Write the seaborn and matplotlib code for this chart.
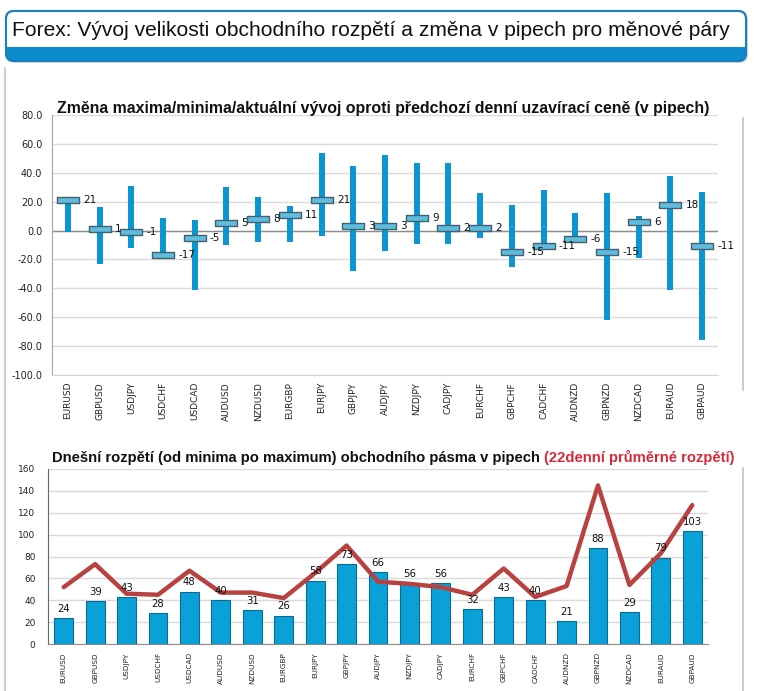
import numpy as np
import matplotlib
matplotlib.use('Agg')
import matplotlib.pyplot as plt
from matplotlib.patches import FancyBboxPatch, Rectangle
from matplotlib.path import Path
from matplotlib.lines import Line2D
from matplotlib.transforms import IdentityTransform
from matplotlib.ticker import FormatStrFormatter
import seaborn as sns

pairs = ['EURUSD', 'GBPUSD', 'USDJPY', 'USDCHF', 'USDCAD', 'AUDUSD', 'NZDUSD',
         'EURGBP', 'EURJPY', 'GBPJPY', 'AUDJPY', 'NZDJPY', 'CADJPY', 'EURCHF',
         'GBPCHF', 'CADCHF', 'AUDNZD', 'GBPNZD', 'NZDCAD', 'EURAUD', 'GBPAUD']
# změna oproti předchozí uzavírací ceně (pipy)
change_max = [23, 16, 31, 9, 7, 30, 23, 17, 54, 45, 52, 47, 47, 26, 18, 28, 12, 26, 10, 38, 27]
change_min = [-1, -23, -12, -19, -41, -10, -8, -8, -4, -28, -14, -9, -9, -5, -25, -10, -8, -62, -19, -41, -76]
change_now = [21, 1, -1, -17, -5, 5, 8, 11, 21, 3, 3, 9, 2, 2, -15, -11, -6, -15, 6, 18, -11]
# dnešní rozpětí a 22denní průměr
range_today = [24, 39, 43, 28, 48, 40, 31, 26, 58, 73, 66, 56, 56, 32, 43, 40, 21, 88, 29, 79, 103]
range_avg22 = [52, 73, 46, 45, 67, 47, 47, 42, 65, 90, 57, 55, 52, 45, 69, 43, 53, 145, 54, 83, 127]

title = 'Forex: Vývoj velikosti obchodního rozpětí a změna v pipech pro měnové páry'
title_top = 'Změna maxima/minima/aktuální vývoj oproti předchozí denní uzavírací ceně (v pipech)'
title_bottom = 'Dnešní rozpětí (od minima po maximum) obchodního pásma v pipech'
title_bottom_red = '(22denní průměrné rozpětí)'

sns.set_style('white')
plt.rcParams['font.family'] = ['DejaVu Sans']
arial = ['Liberation Sans', 'DejaVu Sans']

W, H = 758, 691
fig = plt.figure(figsize=(W / 100, H / 100), dpi=100)
T = IdentityTransform()

# hlavička
box_args = dict(boxstyle='round,pad=0,rounding_size=8', transform=T)
shadow = FancyBboxPatch((8, H - 63), 740, 50, fc='#d8d8d8', ec='none', **box_args)
fig.add_artist(shadow)
box = FancyBboxPatch((6, H - 61), 740, 50, fc='#0b8ccb', ec='#1a80c2', lw=1.5, **box_args)
fig.add_artist(box)
white = Rectangle((0, H - 47), W, 40, fc='white', ec='none', transform=T)
white.set_clip_path(box)
fig.add_artist(white)
fig.add_artist(FancyBboxPatch((6, H - 61), 740, 50, fc='none', ec='#1a80c2', lw=1.5, **box_args))
fig.text(12 / W, 1 - 30 / H, title, fontsize=15.1, family=arial,
         va='center', ha='left', color='#111111')

# šedé rámečky
frame_kw = dict(color='#cccccc', lw=1.5, transform=T)
fig.add_artist(Line2D([5, 5], [0, H - 68], **frame_kw))
fig.add_artist(Line2D([743, 743], [H - 390, H - 118], **frame_kw))
fig.add_artist(Line2D([743, 743], [0, H - 468], **frame_kw))

n = len(pairs)
x = np.arange(n)

# horní graf
ax1 = fig.add_axes([52 / W, 1 - 375 / H, (718 - 52) / W, (375 - 115) / H])
ax1.vlines(x, change_min, change_max, color='#0a96d2', lw=4.3, zorder=2)
bar_marker = Path([(-1, -0.26), (1, -0.26), (1, 0.26), (-1, 0.26), (-1, -0.26)])
sns.stripplot(x=pairs, y=change_now, jitter=False, marker=bar_marker, size=16.5,
              color='#5cbde0', edgecolor='#4a5f6c', linewidth=1, zorder=3, ax=ax1)
for xi, v in zip(x, change_now):
    ax1.text(xi + 0.48, v, f'{v}', fontsize=7.5, va='center', ha='left', color='#111111', zorder=4)
ax1.axhline(0, color='#8c8c8c', lw=1, zorder=1)
ax1.set_ylim(-100, 80)
ax1.set_xlim(-0.5, n - 0.5)
ax1.set_yticks(np.arange(-100, 81, 20))
ax1.yaxis.set_major_formatter(FormatStrFormatter('%.1f'))
ax1.grid(axis='y', color='#dadada', lw=1)
ax1.set_axisbelow(True)
ax1.set_xticks(x)
ax1.set_xticklabels(pairs, rotation=90)
ax1.tick_params(axis='x', length=0, pad=5, labelsize=6.5, labelcolor='#222222')
ax1.tick_params(axis='y', length=0, pad=7, labelsize=7, labelcolor='#222222')
ax1.set_xlabel('')
ax1.set_ylabel('')
for s in ['top', 'right']:
    ax1.spines[s].set_visible(False)
ax1.spines['left'].set_color('#a6a6a6')
ax1.spines['bottom'].set_color('#d6d6d6')
fig.text(383 / W, 1 - 108 / H, title_top, fontsize=11.4, fontweight='bold',
         family=arial, ha='center', va='center', color='#111111')

# dolní graf
ax2 = fig.add_axes([48 / W, 1 - 644 / H, (708 - 48) / W, (644 - 469) / H])
sns.barplot(x=pairs, y=range_today, color='#0aa0d8', saturation=1, width=0.6,
            edgecolor='#0d6a92', linewidth=0.8, zorder=2, ax=ax2)
ax2.bar_label(ax2.containers[0], padding=3, fontsize=7.3, color='#111111', zorder=4)
sns.lineplot(x=x, y=range_avg22, color='#b8423f', linewidth=3.2, sort=False, zorder=3, ax=ax2)
ax2.set_ylim(0, 160)
ax2.set_xlim(-0.5, n - 0.5)
ax2.set_yticks(np.arange(0, 161, 20))
ax2.grid(axis='y', color='#dadada', lw=1)
ax2.set_axisbelow(True)
ax2.set_xticks(x)
ax2.set_xticklabels(pairs, rotation=90, family=['Liberation Sans Narrow', 'DejaVu Sans'])
ax2.set_xticks(np.arange(-0.5, n, 1), minor=True)
ax2.tick_params(axis='x', which='major', length=0, pad=6, labelsize=5.2, labelcolor='#222222')
ax2.tick_params(axis='x', which='minor', length=4, width=0.8, color='#808080', direction='out')
ax2.tick_params(axis='y', length=0, pad=9, labelsize=6.5, labelcolor='#222222')
ax2.set_xlabel('')
ax2.set_ylabel('')
for s in ['top', 'right']:
    ax2.spines[s].set_visible(False)
ax2.spines['left'].set_color('#5c6b78')
ax2.spines['bottom'].set_color('#8c8c8c')

t1 = fig.text(52 / W, 1 - 458 / H, title_bottom, fontsize=10.6, fontweight='bold',
              family=arial, ha='left', va='center', color='#111111')
fig.add_artist(plt.Annotation(title_bottom_red, xy=(1, 0), xycoords=t1, xytext=(3, 0),
                              textcoords='offset points', ha='left', va='bottom', fontsize=10.6,
                              fontweight='bold', family=arial, color='#d42a3c'))

fig.savefig('out.png', dpi=100)
